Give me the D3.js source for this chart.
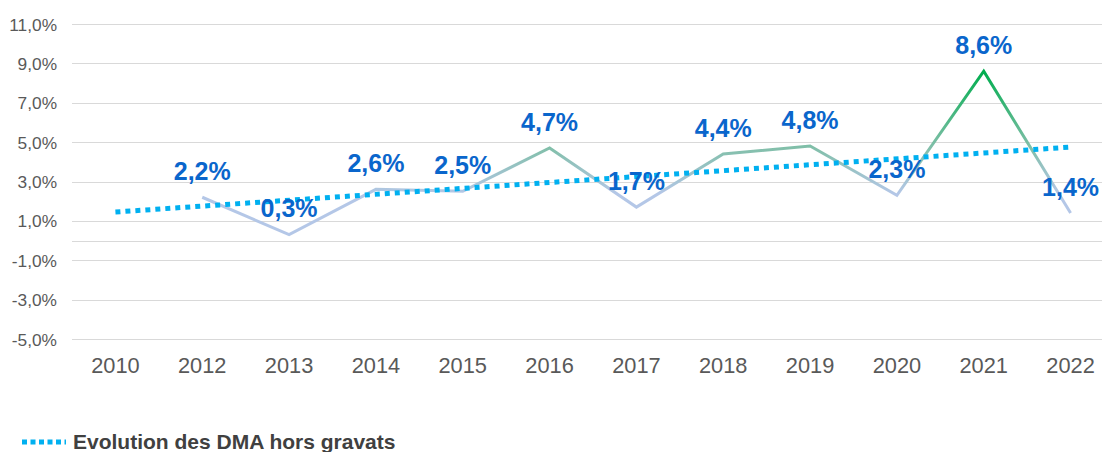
<!DOCTYPE html>
<html><head><meta charset="utf-8">
<script src="https://cdn.jsdelivr.net/npm/d3@7"></script>
<style>body{margin:0;background:#fff}svg{display:block}</style>
</head><body>
<svg id="c" width="1102" height="452"></svg>
<script>
const years = ["2010","2012","2013","2014","2015","2016","2017","2018","2019","2020","2021","2022"];
const values = [null, 2.2, 0.3, 2.6, 2.5, 4.7, 1.7, 4.4, 4.8, 2.3, 8.6, 1.4];
const trendYears = ["2010","2022"];
const trendValues = [1.45, 4.75];
const yTicks = [11, 9, 7, 5, 3, 1, -1, -3, -5];
const legendLabel = "Evolution des DMA hors gravats";

const svg = d3.select("#c");
const x = d3.scaleBand().domain(years).range([72, 1114]);
const y = d3.scaleLinear().domain([-5, 11]).range([339, 24]);
const cx = d => x(d) + x.bandwidth() / 2;
const fmt = v => v.toFixed(1).replace(".", ",") + "%";

// gridlines
svg.append("g").selectAll("line").data(yTicks.concat([0])).join("line")
  .attr("x1", 72).attr("x2", 1114)
  .attr("y1", d => Math.round(y(d)) + 0.5).attr("y2", d => Math.round(y(d)) + 0.5)
  .attr("stroke", "#d9d9d9").attr("stroke-width", 1);

// y axis labels
const yAxis = d3.axisLeft(y).tickValues(yTicks).tickSize(0).tickPadding(0).tickFormat(fmt);
const gy = svg.append("g").attr("transform", "translate(57,0)").call(yAxis);
gy.select(".domain").remove();
gy.selectAll("text").attr("font-family", "Liberation Sans, Arial, sans-serif")
  .attr("font-size", 17.3).attr("fill", "#595959").attr("dy", "0.35em");

// x axis labels
const xAxis = d3.axisBottom(x).tickSize(0).tickPadding(0);
const gx = svg.append("g").attr("transform", "translate(0,365)").call(xAxis);
gx.select(".domain").remove();
gx.selectAll("text").attr("font-family", "Liberation Sans, Arial, sans-serif")
  .attr("font-size", 21.8).attr("fill", "#595959").attr("dy", "0.35em");

// gradient
const defs = svg.append("defs");
const grad = defs.append("linearGradient").attr("id", "lg")
  .attr("gradientUnits", "userSpaceOnUse")
  .attr("x1", 0).attr("x2", 0).attr("y1", y(8.6)).attr("y2", y(0.3));
grad.append("stop").attr("offset", 0).attr("stop-color", "#00ad4e");
grad.append("stop").attr("offset", 0.47).attr("stop-color", "#82bfaa");
grad.append("stop").attr("offset", 0.75).attr("stop-color", "#b4c7e7");
grad.append("stop").attr("offset", 1).attr("stop-color", "#b4c7e7");

// main line
const pts = years.map((yr, i) => ({yr, v: values[i]})).filter(d => d.v !== null);
svg.append("path").datum(pts)
  .attr("fill", "none").attr("stroke", "url(#lg)").attr("stroke-width", 3)
  .attr("stroke-linejoin", "miter")
  .attr("d", d3.line().x(d => cx(d.yr)).y(d => y(d.v)));

// trend
const tr = trendYears.map((yr, i) => ({yr, v: trendValues[i]}));
svg.append("path").datum(tr)
  .attr("fill", "none").attr("stroke", "#00b0f0").attr("stroke-width", 5)
  .attr("stroke-dasharray", "5,5")
  .attr("d", d3.line().x(d => cx(d.yr)).y(d => y(d.v)));

// labels
svg.append("g").selectAll("text").data(pts).join("text")
  .attr("x", d => cx(d.yr)).attr("y", d => y(d.v) - 26)
  .attr("dy", "0.35em").attr("text-anchor", "middle")
  .attr("font-family", "Liberation Sans, Arial, sans-serif").attr("font-weight", "bold")
  .attr("font-size", 25).attr("fill", "#0a66cc")
  .text(d => fmt(d.v));

// legend
svg.append("line").attr("x1", 22).attr("x2", 66).attr("y1", 442).attr("y2", 442)
  .attr("stroke", "#00b0f0").attr("stroke-width", 5).attr("stroke-dasharray", "5,3.5");
svg.append("text").attr("x", 73).attr("y", 449)
  .attr("font-family", "Liberation Sans, Arial, sans-serif").attr("font-weight", "bold")
  .attr("font-size", 21).attr("fill", "#404040").text(legendLabel);
</script>
</body></html>
